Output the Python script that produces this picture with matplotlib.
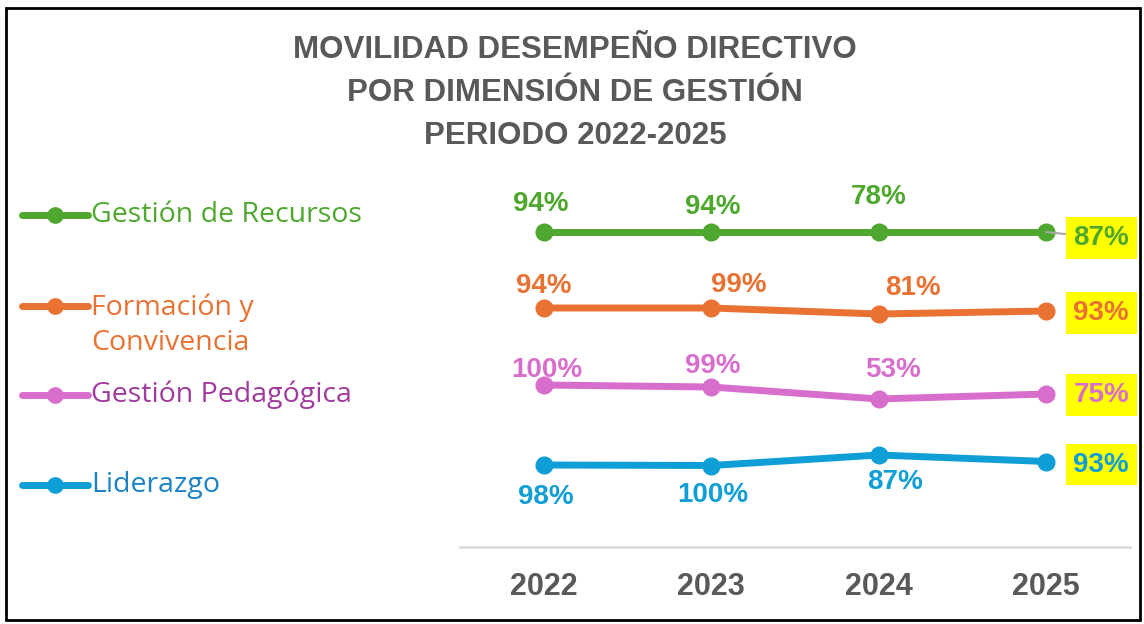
"""
Movilidad desempeño directivo por dimensión de gestión, 2022-2025.
"""
import matplotlib
matplotlib.use("Agg")
import matplotlib.pyplot as plt
from matplotlib.lines import Line2D
from matplotlib.patches import Rectangle

years = ["2022", "2023", "2024", "2025"]
series_names = ["Gestión de Recursos", "Formación y\nConvivencia", "Gestión Pedagógica", "Liderazgo"]

# vertical position of each line (as drawn in the chart)
recursos_pos = [3.15, 3.15, 3.15, 3.15]
formacion_pos = [2.39, 2.39, 2.33, 2.36]
pedagogica_pos = [1.62, 1.60, 1.48, 1.53]
liderazgo_pos = [0.82, 0.815, 0.92, 0.855]

# percentages shown as data labels
recursos_pct = [94, 94, 78, 87]
formacion_pct = [94, 99, 81, 93]
pedagogica_pct = [100, 99, 53, 75]
liderazgo_pct = [98, 100, 87, 93]

positions = [recursos_pos, formacion_pos, pedagogica_pos, liderazgo_pos]
percents = [recursos_pct, formacion_pct, pedagogica_pct, liderazgo_pct]

line_colors = ["#4EA72E", "#E97132", "#D86ECC", "#0F9ED5"]
legend_text_colors = ["#4EA72E", "#E97132", "#A03A9E", "#1B82C6"]

# label offsets in pixels (dx, dy) for 2022-2024, and for the boxed 2025 label
label_offsets = [
    [(-3, 28), (2, 25), (0, 35)],
    [(0, 22), (28, 23), (34, 26)],
    [(3, 15), (1, 21), (14, 29)],
    [(2, -32), (2, -30), (16, -27)],
]
box_offsets = [(55, -6), (55, -2), (55, -1), (55, -3)]

fig = plt.figure(figsize=(11.44, 6.24), dpi=100)
ax = fig.add_axes([460 / 1144, 77 / 624, 670 / 1144, 377 / 624])

x = list(range(len(years)))
for i in range(len(series_names)):
    color = line_colors[i]
    ax.plot(x, positions[i], color=color, linewidth=5, marker="o", markersize=12,
            solid_capstyle="round", zorder=3)
    for j in range(len(years) - 1):
        dx, dy = label_offsets[i][j]
        ax.annotate("{}%".format(percents[i][j]), (x[j], positions[i][j]),
                    xytext=(dx, dy), textcoords="offset pixels", ha="center", va="center",
                    fontsize=20, fontweight="bold", color=color, family="Liberation Sans")
    dx, dy = box_offsets[i]
    arrow = dict(arrowstyle="-", color="#A6A6A6", lw=1.5, shrinkA=0, shrinkB=0) if i == 0 else None
    ax.annotate("{}%".format(percents[i][-1]), (x[-1], positions[i][-1]),
                xytext=(dx, dy), textcoords="offset pixels", ha="center", va="center",
                fontsize=20, fontweight="bold", color=color, family="Liberation Sans",
                bbox=dict(boxstyle="square,pad=0.28", fc="#FFFF00", ec="none"),
                arrowprops=arrow, zorder=4)

ax.set_xlim(-0.5, 3.5)
ax.set_ylim(0, 3.77)
ax.set_xticks(x)
ax.set_xticklabels(years, fontsize=22, fontweight="bold", color="#595959", family="Liberation Sans")
ax.tick_params(axis="x", length=0, pad=18)
ax.set_yticks([])
for side in ["left", "right", "top"]:
    ax.spines[side].set_visible(False)
ax.spines["bottom"].set_color("#D9D9D9")
ax.spines["bottom"].set_linewidth(1.8)

# title
title_lines = ["MOVILIDAD DESEMPEÑO DIRECTIVO", "POR DIMENSIÓN DE GESTIÓN", "PERIODO 2022-2025"]
for k, line in enumerate(title_lines):
    fig.text(575 / 1144, 1 - (50 + 43 * k) / 624, line, ha="center", va="center",
             fontsize=22.5, fontweight="bold", color="#595959", family="Liberation Sans")

# legend drawn at the left
legend_y = [215, 306, 395, 485]
for i, name in enumerate(series_names):
    yy = 1 - legend_y[i] / 624
    fig.add_artist(Line2D([22 / 1144, 88 / 1144], [yy, yy], color=line_colors[i], linewidth=5,
                          solid_capstyle="round", transform=fig.transFigure))
    fig.add_artist(Line2D([55 / 1144], [yy], color=line_colors[i], marker="o", markersize=11,
                          transform=fig.transFigure))
    if "\n" in name:
        fig.text(91 / 1144, yy + 12 / 624, name, ha="left", va="top",
                 fontsize=20.5, color=legend_text_colors[i], family="Open Sans", linespacing=1.32)
    else:
        fig.text(91 / 1144, yy, name, ha="left", va="center",
                 fontsize=20.5, color=legend_text_colors[i], family="Open Sans")

# outer frame
fig.add_artist(Rectangle((6 / 1144, 4 / 624), 1134 / 1144, 612 / 624, fill=False,
                         edgecolor="black", linewidth=2, transform=fig.transFigure))

fig.savefig("out.png", dpi=100)
